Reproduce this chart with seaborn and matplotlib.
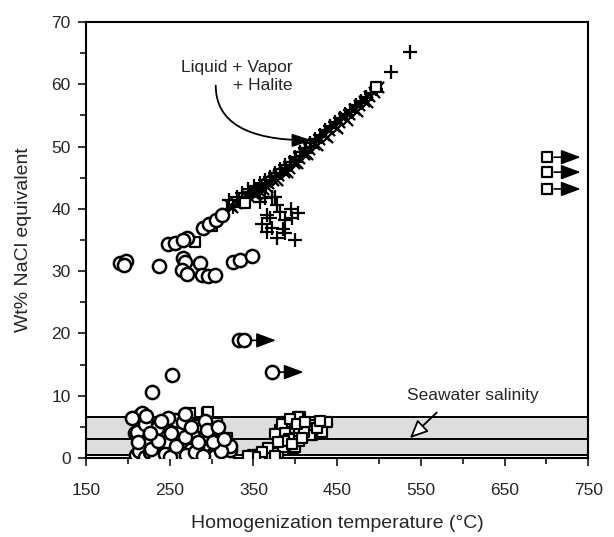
import matplotlib
matplotlib.use('Agg')
import matplotlib.pyplot as plt
import seaborn as sns

# circles: Wt% NaCl vs homogenization temperature
circle_t = [191, 198, 196, 237, 266, 268, 286, 265, 271, 289, 296, 304, 326, 334, 348,
            248, 256, 271, 266, 290, 297, 305, 312,
            229, 253,
            214, 214, 208, 232, 230, 242, 247, 250, 238, 254, 262, 272, 274, 289, 286, 298,
            300, 310, 318, 322, 259, 238, 218, 217, 211, 256, 235, 241, 262, 290, 304, 322,
            270, 280, 225, 205, 220, 248, 266, 282, 292, 222, 230, 245, 264, 278, 295, 311,
            215, 290,
            210, 213, 220, 226, 233, 244, 250, 228, 236, 226, 252, 258, 268, 276, 284, 302,
            315, 308, 212, 222, 240, 268]
circle_w = [31.3, 31.6, 31.0, 30.8, 32.1, 31.5, 31.3, 30.2, 29.6, 29.4, 29.2, 29.4, 31.5, 31.8, 32.4,
            34.3, 34.6, 35.4, 35.0, 37.0, 37.6, 38.2, 39.0,
            10.6, 13.3,
            6.9, 6.1, 4.0, 5.0, 4.0, 4.8, 3.4, 2.9, 1.8, 1.3, 4.2, 2.4, 1.3, 3.4, 1.3, 1.8,
            0.5, 0.2, 0.2, 1.3, 0.3, 0.3, 1.6, 7.2, 4.2, 6.1, 4.8, 1.8, 4.0, 3.2, 0.3, 2.0,
            0.5, 1.0, 2.5, 6.5, 5.5, 6.5, 5.8, 5.2, 6.0, 0.3, 0.8, 2.5, 2.8, 3.5, 4.5, 1.2,
            0.5, 0.3,
            0.5, 1.2, 0.2, 0.9, 0.2, 0.6, 0.2, 1.5, 2.8, 4.0, 4.0, 2.0, 3.4, 5.0, 2.6, 2.5,
            3.0, 5.0, 2.6, 6.8, 6.0, 7.0]

# circles that are minimum temperatures (arrow to the right)
min_circle_t = [333, 339, 372]
min_circle_w = [18.9, 18.9, 13.8]

# squares
square_t = [272, 295, 306, 308, 318, 350, 274, 296, 285, 300, 280, 265, 292, 305, 258, 364,
            406, 406, 420, 438, 432, 420, 382, 384, 397, 390, 354, 403, 418, 400, 395, 400,
            392, 398, 362, 366, 370, 374, 378, 372, 380, 385, 358, 388, 410, 404,
            384, 388, 392, 394, 386, 396, 402, 408, 412, 426, 430, 376, 380, 368, 376, 360,
            352, 344,
            280, 300, 340, 497]
square_w = [6.4, 7.2, 5.6, 4.5, 3.2, 0.5, 7.2, 7.4, 5.5, 3.0, 2.0, 1.0, 1.5, 2.0, 6.0, 0.8,
            6.6, 5.3, 5.3, 5.8, 4.2, 3.7, 4.5, 3.4, 1.6, 2.4, 0.5, 6.6, 3.7, 1.8, 5.0, 4.0,
            4.8, 3.2, 0.3, 0.8, 1.0, 1.2, 1.5, 0.5, 0.8, 1.8, 0.3, 5.8, 4.2, 2.8,
            5.5, 4.0, 3.0, 6.2, 2.8, 2.2, 5.5, 3.2, 5.8, 4.8, 6.0, 3.8, 2.5, 1.6, 0.3, 1.0,
            0.2, 0.3,
            34.7, 37.2, 41.0, 59.5]

# squares that are minimum temperatures
min_square_t = [701, 701, 701]
min_square_w = [48.3, 45.9, 43.2]

# halite-bearing inclusions (plus signs)
plus_t = [366, 378, 388, 400, 382, 388, 403, 358, 372, 378, 366, 395, 396, 360, 370,
          372, 385, 348, 355, 364, 376, 515, 537,
          318, 326, 333, 340, 346, 353, 359, 365, 371, 377, 383, 389, 395, 401, 407, 413,
          419, 425, 431, 437, 443, 449, 455, 461, 467, 473, 479, 485, 491, 497,
          321, 330, 337, 344, 351, 358, 364, 370, 376, 382, 388, 394, 400, 406, 412, 418,
          424, 430, 436, 442, 448, 454, 460, 466, 472, 478, 484, 490]
plus_w = [36.3, 35.3, 36.1, 35.0, 39.5, 38.2, 39.3, 41.1, 41.9, 40.6, 39.0, 40.0, 38.6, 37.5, 38.5,
          37.0, 36.8, 42.7, 43.0, 41.7, 41.9, 62.0, 65.2,
          40.0, 40.3, 41.2, 41.4, 42.4, 42.9, 43.4, 43.8, 44.5, 45.1, 45.7, 46.4, 47.0, 47.9, 48.5, 49.3,
          50.0, 50.7, 51.5, 52.3, 53.0, 53.7, 54.4, 55.0, 55.6, 56.3, 57.0, 57.8, 58.5, 59.2,
          41.4, 41.9, 42.6, 43.2, 43.7, 44.2, 44.6, 45.2, 45.8, 46.4, 47.0, 47.6, 48.4, 49.1, 49.8, 50.5,
          51.2, 51.9, 52.6, 53.3, 54.0, 54.6, 55.3, 55.9, 56.6, 57.3, 57.9, 58.6]

x_t = [322, 329, 336, 343, 350, 356, 362, 368, 374, 380, 386, 392, 398, 404, 410, 416,
       422, 428, 434, 440, 446, 452, 458, 464, 470, 476, 482, 488, 494, 499,
       325, 339, 353, 366, 378, 390, 402, 414, 426, 438, 450, 462, 474, 486]
x_w = [40.6, 41.0, 41.5, 42.1, 42.6, 43.1, 43.2, 44.1, 44.6, 45.4, 45.9, 46.6, 47.3, 48.1, 48.8, 49.6,
       50.4, 51.2, 51.9, 52.6, 53.3, 54.0, 54.7, 55.3, 56.0, 56.7, 57.4, 58.1, 58.8, 59.6,
       40.3, 41.3, 42.4, 43.5, 44.7, 46.0, 47.4, 48.8, 50.2, 51.6, 53.0, 54.3, 55.7, 57.1]

# seawater salinity band
band_low, band_mid, band_high = 0.5, 3.0, 6.6

sns.set_style('ticks')
plt.rcParams['font.family'] = ['Liberation Sans', 'DejaVu Sans']

fig = plt.figure(figsize=(6.14, 5.37), dpi=100)
ax = fig.add_axes([0.140, 0.147, 0.818, 0.812])

ax.axhspan(band_low, band_high, color='#dddddd', zorder=0, lw=0)
for yy in [band_low, band_mid, band_high]:
    ax.axhline(yy, color='black', lw=1.4, zorder=1)

sns.scatterplot(x=x_t, y=x_w, marker='x', s=65, color='black', linewidth=1.6, ax=ax, zorder=3)
sns.scatterplot(x=plus_t, y=plus_w, marker='+', s=100, color='black', linewidth=1.6, ax=ax, zorder=3)
sns.scatterplot(x=square_t, y=square_w, marker='s', s=62, color='white', edgecolor='black',
                linewidth=1.6, ax=ax, zorder=4)
sns.scatterplot(x=circle_t, y=circle_w, marker='o', s=90, color='white', edgecolor='black',
                linewidth=1.8, ax=ax, zorder=5)
sns.scatterplot(x=min_circle_t, y=min_circle_w, marker='o', s=90, color='white', edgecolor='black',
                linewidth=1.8, ax=ax, zorder=5)
sns.scatterplot(x=min_square_t, y=min_square_w, marker='s', s=62, color='white', edgecolor='black',
                linewidth=1.6, ax=ax, zorder=5)

arrow = dict(arrowstyle='-|>,head_length=1.2,head_width=0.45', color='black', lw=1.2,
             mutation_scale=10, shrinkA=5, shrinkB=0)
for t, w in zip(min_circle_t[1:], min_circle_w[1:]):
    ax.annotate('', xy=(t + 38, w), xytext=(t, w), arrowprops=arrow, zorder=6)
for t, w in zip(min_square_t, min_square_w):
    ax.annotate('', xy=(t + 40, w), xytext=(t, w), arrowprops=arrow, zorder=6)

ax.text(397, 61.2, 'Liquid + Vapor\n+ Halite', ha='right', va='center', multialignment='right',
        fontsize=12.5, linespacing=1.25)
ax.annotate('', xy=(420, 51.0), xytext=(305, 59.8),
            arrowprops=dict(arrowstyle='-|>,head_length=1.2,head_width=0.4', color='black', lw=1.3,
                            mutation_scale=10, shrinkA=0, shrinkB=0,
                            connectionstyle='angle3,angleA=90,angleB=0'))

ax.text(612, 10.0, 'Seawater salinity', ha='center', va='center', fontsize=12.5)
ax.annotate('', xy=(537, 3.2), xytext=(569, 7.3),
            arrowprops=dict(arrowstyle='-|>,head_length=1.1,head_width=0.5', fc='white', ec='black',
                            lw=1.3, mutation_scale=10, shrinkA=0, shrinkB=0), zorder=6)

ax.set_xlim(150, 750)
ax.set_ylim(0, 70)
ax.set_xticks(range(150, 751, 100))
ax.set_xticks(range(200, 701, 100), minor=True)
ax.set_yticks(range(0, 71, 10))
ax.set_yticks(range(5, 70, 10), minor=True)
ax.tick_params(axis='both', which='major', direction='out', length=6, width=1.3, labelsize=12.5)
ax.tick_params(axis='x', which='major', pad=12)
ax.tick_params(axis='y', which='major', pad=5)
ax.tick_params(axis='both', which='minor', direction='out', length=4, width=1.3)
for sp in ax.spines.values():
    sp.set_linewidth(1.5)
    sp.set_color('black')

ax.set_xlabel('Homogenization temperature (°C)', fontsize=14, labelpad=12)
ax.set_ylabel('Wt% NaCl equivalent', fontsize=14, labelpad=14)

fig.savefig('out.png', dpi=100)
